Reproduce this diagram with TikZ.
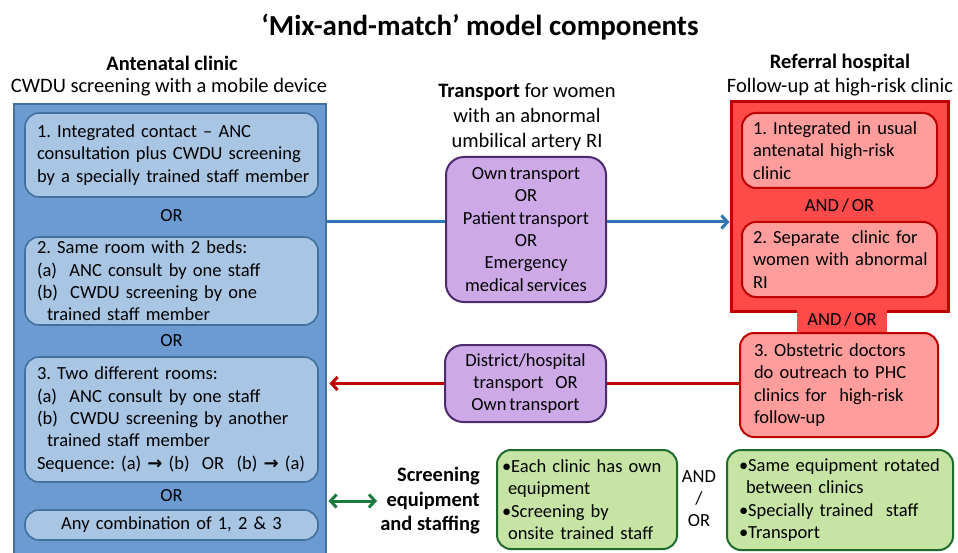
\documentclass[tikz,border=0pt]{standalone}
\usepackage{fontspec}
\setmainfont{Carlito}
\newfontfamily\boxfam{Carlito}[WordSpace=0.7]
\newfontfamily\symfont{DejaVu Sans}
\usetikzlibrary{arrows.meta}
\definecolor{blueout}{HTML}{6B9BD0}
\definecolor{blueedge}{HTML}{41719C}
\definecolor{bluein}{HTML}{A9C5E4}
\definecolor{purplefill}{HTML}{CDA9E8}
\definecolor{purpleedge}{HTML}{4E2A6E}
\definecolor{redout}{HTML}{FF4A4A}
\definecolor{rededge}{HTML}{BF0000}
\definecolor{pinkfill}{HTML}{FF9C9C}
\definecolor{greenfill}{HTML}{C6E4A4}
\definecolor{greenedge}{HTML}{1F6B2E}
\definecolor{bluearr}{HTML}{2E75B6}
\definecolor{redarr}{HTML}{C00000}
\definecolor{greenarr}{HTML}{1B7A3E}
\tikzset{
  boxtext/.style={font=\boxfam\fontsize{18.5}{22.3}\selectfont},
  headtext/.style={font=\fontsize{20.5}{25}\selectfont, inner sep=0pt, align=center},
  outerblue/.style={draw=blueedge, fill=blueout, line width=2pt, inner sep=0pt},
  bluebox/.style={draw=blueedge, fill=bluein, line width=1.6pt, rounded corners=14pt,
    inner xsep=12pt, inner ysep=0pt, align=left, boxtext, text width=269pt,
    minimum width=293pt},
  purplebox/.style={draw=purpleedge, fill=purplefill, line width=2pt, rounded corners=18pt,
    inner sep=0pt, align=center, boxtext},
  redouter/.style={draw=rededge, fill=redout, line width=3pt, inner sep=0pt},
  redbox/.style={draw=rededge, fill=pinkfill, line width=2pt, rounded corners=14pt,
    inner xsep=11pt, inner ysep=0pt, align=left, boxtext},
  greenbox/.style={draw=greenedge, fill=greenfill, line width=2pt, rounded corners=14pt,
    inner ysep=0pt, align=left, boxtext},
  plainlabel/.style={boxtext, inner sep=0pt, align=center},
  conn/.style={line width=3pt},
  barb/.style={-{Straight Barb[length=6pt,width=13pt]}},
  dbarb/.style={{Straight Barb[length=6pt,width=13pt]}-{Straight Barb[length=6pt,width=13pt]}}
}
\newcommand\seqarrow{{\symfont\bfseries\fontsize{18}{18}\selectfont →}}
\newcommand\nb[1]{\mbox{#1}}
\begin{document}
\frenchspacing
\hyphenpenalty=10000
\exhyphenpenalty=10000
\hbadness=10000
\hfuzz=100pt
\begin{tikzpicture}[x=1pt,y=-1pt]
\useasboundingbox (0,0) rectangle (958,553);
\clip (0,0) rectangle (958,553);
\fill[white] (0,0) rectangle (958,553);

% title and headings
\node[font=\fontsize{29}{33}\selectfont\bfseries, inner sep=0pt] (title) at (480,27)
  {‘Mix-and-match’ model components};
\node[headtext, font=\fontsize{20.5}{25}\selectfont\bfseries] (anc) at (172,63) {Antenatal clinic};
\node[headtext] (cwdu) at (169,87) {CWDU screening with a mobile device};
\node[headtext] (trh) at (527,117) {\textbf{Transport} for women\\with an abnormal\\umbilical artery RI};
\node[headtext, font=\fontsize{20.5}{25}\selectfont\bfseries] (ref) at (840,63) {Referral hospital};
\node[headtext] (fol) at (840,87) {Follow-up at high-risk clinic};

% antenatal clinic column
\node[outerblue, minimum width=312pt, minimum height=460pt] (clinic) at (169.5,334) {};
\node[bluebox, minimum height=84pt] (b1) at (171.5,155)
  {\nb{1. Integrated contact – ANC}\\\nb{consultation plus CWDU screening}\\\nb{by a specially trained staff member}};
\node[plainlabel] (or1) at (171.5,216) {OR};
\node[bluebox, minimum height=88pt] (b2) at (171.5,281)
  {\nb{2. Same room with 2 beds:}\\\nb{(a)\ \ ANC consult by one staff}\\\nb{(b)\ \ CWDU screening by one}\\\hspace*{10pt}\nb{trained staff member}};
\node[plainlabel] (or2) at (171.5,341) {OR};
\node[bluebox, minimum height=125pt] (b3) at (171.5,419.5)
  {\nb{3. Two different rooms:}\\\nb{(a)\ \ ANC consult by one staff}\\\nb{(b)\ \ CWDU screening by another}\\\hspace*{10pt}\nb{trained staff member}\\\nb{Sequence: (a) \seqarrow{} (b)\ \ OR\ \ (b) \seqarrow{} (a)}};
\node[plainlabel] (or3) at (171.5,496) {OR};
\node[bluebox, align=center, minimum height=30pt] (b4) at (171.5,525) {Any combination of 1, 2 \& 3};

% referral hospital column
\node[redouter, minimum width=217pt, minimum height=209pt] (hosp) at (839.5,206.5) {};
\node[redbox, text width=173pt, minimum height=75pt] (r1) at (839.5,150.5)
  {\nb{1. Integrated in usual}\\\nb{antenatal high-risk}\\clinic};
\node[plainlabel] (andor1) at (839.5,205) {AND / OR};
\node[redbox, text width=173pt, minimum height=75pt] (r2) at (839.5,259.5)
  {\nb{2. Separate\ \ clinic for}\\\nb{women with abnormal}\\RI};
\node[fill=redout, inner sep=0pt, minimum width=90pt, minimum height=23pt] (tab) at (842,320.5) {};
\node[plainlabel] (andor2) at (842,319) {AND / OR};
\node[redbox, inner xsep=14pt, text width=170pt, minimum height=104pt] (r3) at (839,385)
  {\nb{3. Obstetric doctors}\\\nb{do outreach to PHC}\\\nb{clinics for\ \ high-risk}\\follow-up};

% transport boxes
\coordinate (bluey) at (0,222);
\draw[conn, draw=bluearr] (clinic.east |- bluey) -- (530,222);
\draw[conn, draw=redarr] (r3.west |- 0,383) -- (520,383);
\node[purplebox, minimum width=160pt, minimum height=145pt] (p1) at (526,229.5)
  {Own transport\\OR\\Patient transport\\OR\\Emergency\\medical services};
\node[purplebox, minimum width=161pt, minimum height=77pt] (p2) at (525.5,383.5)
  {District/hospital\\transport\ \ \ \ OR\\Own transport};
\draw[conn, draw=bluearr, barb] (p1.east |- bluey) -- (hosp.west |- bluey);
\draw[conn, draw=redarr, barb] (p2.west) -- ([xshift=3pt]clinic.east |- p2.west);

% screening equipment row
\node[font=\fontsize{20.5}{24.5}\selectfont\bfseries, align=right, inner sep=0pt, anchor=east] (scr) at (480,501)
  {Screening\\equipment\\and staffing};
\draw[conn, draw=greenarr, dbarb] ([xshift=2pt]clinic.east |- 0,501) -- (377,501);
\node[greenbox, inner xsep=5pt, text width=170pt, minimum height=99pt] (g1) at (587,499.5)
  {\nb{•Each clinic has own}\\\hspace*{6pt}equipment\\\nb{•Screening by}\\\hspace*{6pt}\nb{onsite trained staff}};
\node[plainlabel, align=center, font=\boxfam\fontsize{18.5}{22}\selectfont] (andor3) at (699,499) {AND\\/\\OR};
\node[greenbox, inner xsep=12pt, text width=202pt, minimum height=100pt] (g2) at (840,500)
  {\nb{•Same equipment rotated}\\\hspace*{7pt}\nb{between clinics}\\\nb{•Specially trained\ \ staff}\\•Transport};
\end{tikzpicture}
\end{document}
